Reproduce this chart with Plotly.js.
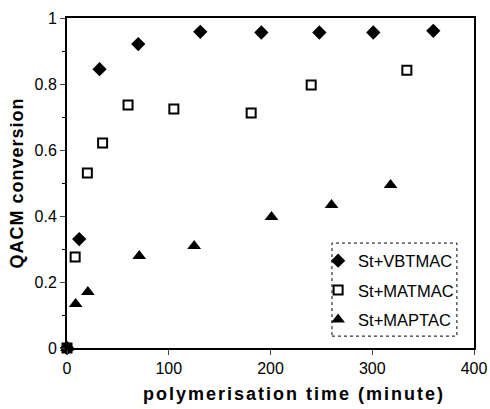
<!DOCTYPE html>
<html><head><meta charset="utf-8">
<script src="https://cdn.plot.ly/plotly-3.0.1.min.js"></script>
<style>
body{margin:0;background:#fff}#c{width:490px;height:409px}
#c .g-ytitle text{letter-spacing:1px}
#c .annotation-text{letter-spacing:2px}
</style>
</head><body><div id="c"></div>
<script>
const seriesNames = ["St+VBTMAC", "St+MATMAC", "St+MAPTAC"];
const vbtmacX = [0, 12, 32, 70, 131, 191, 248, 301, 360];
const vbtmacY = [0, 0.33, 0.845, 0.921, 0.958, 0.956, 0.956, 0.956, 0.961];
const matmacX = [0, 8, 20, 35, 60, 105, 181, 240, 334];
const matmacY = [0, 0.276, 0.53, 0.621, 0.736, 0.724, 0.712, 0.797, 0.842];
const maptacX = [0, 8.5, 20.5, 71, 125, 201, 260, 318];
const maptacY = [0, 0.133, 0.17, 0.279, 0.309, 0.397, 0.433, 0.494];
const xTicks = [0, 100, 200, 300, 400];
const yTicks = [0, 0.2, 0.4, 0.6, 0.8, 1];
const yTickLabels = ["0", "0.2", "0.4", "0.6", "0.8", "1"];
const xTitle = "polymerisation time (minute)";
const yTitle = "QACM conversion";

const font = "Liberation Sans, Arial, sans-serif";
const traces = [
  {x: vbtmacX, y: vbtmacY, name: seriesNames[0], legendgroup: "a", mode: "markers", type: "scatter",
   marker: {symbol: "diamond", size: 11, color: "#000"}, cliponaxis: false},
  {x: matmacX, y: matmacY, name: seriesNames[1], legendgroup: "b", mode: "markers", type: "scatter",
   marker: {symbol: "square-open", size: 9, color: "#000", line: {width: 2, color: "#000"}}, cliponaxis: false},
  {x: maptacX, y: maptacY, name: seriesNames[2], legendgroup: "c", mode: "markers", type: "scatter",
   marker: {symbol: "triangle-up", size: 12, color: "#000"}, cliponaxis: false}
];
const layout = {
  width: 490, height: 409,
  margin: {l: 67, r: 16, t: 18, b: 61},
  paper_bgcolor: "#fff", plot_bgcolor: "#fff",
  font: {family: font, color: "#000", size: 16},
  showlegend: true,
  legend: {x: 0.617, y: 0.032, xanchor: "left", yanchor: "bottom", bgcolor: "rgba(0,0,0,0)",
    font: {family: font, size: 16.5}, tracegroupgap: 5, itemwidth: 30},
  xaxis: {range: [0, 400], tickvals: xTicks, ticks: "outside", ticklen: 5, tickwidth: 1,
    showline: true, linecolor: "#000", linewidth: 2, mirror: true, showgrid: false, zeroline: false,
    tickfont: {size: 16}},
  yaxis: {range: [0, 1], tickvals: yTicks, ticktext: yTickLabels, ticks: "outside", ticklen: 5, tickwidth: 1,
    showline: true, linecolor: "#000", linewidth: 2, mirror: true, showgrid: false, zeroline: false,
    tickfont: {size: 16}, title: {text: "<b>" + yTitle + "</b>", font: {size: 18}, standoff: 6},
    minor: {dtick: 0.1, ticks: "outside", ticklen: 3, tickcolor: "#000"}},
  annotations: [{text: "<b>" + xTitle + "</b>", xref: "paper", yref: "paper", x: 0.558, y: 0,
    xanchor: "center", yanchor: "middle", yshift: -46, showarrow: false, font: {size: 18}}],
  shapes: [{type: "rect", xref: "paper", yref: "paper", x0: 0.651, x1: 0.958, y0: 0.036, y1: 0.318,
    line: {color: "#000", width: 1, dash: "dot"}}]
};
Plotly.newPlot("c", traces, layout, {displayModeBar: false, staticPlot: true});
</script></body></html>
